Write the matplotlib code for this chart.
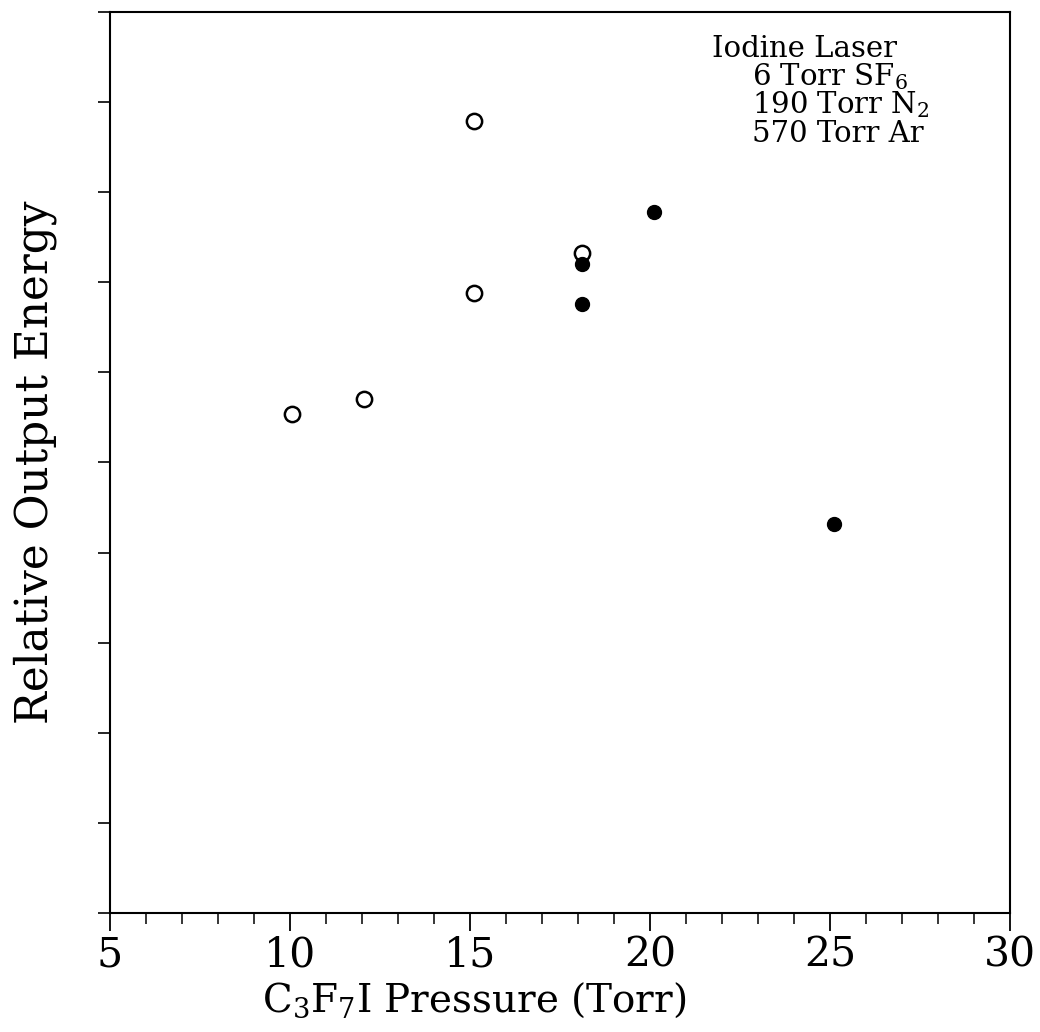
import matplotlib
matplotlib.use("Agg")
import matplotlib.pyplot as plt
from matplotlib.ticker import MultipleLocator, NullFormatter

plt.rcParams['font.family'] = ['DejaVu Serif']
plt.rcParams['mathtext.fontset'] = 'dejavuserif'

# open circles
open_x = [10.05, 12.05, 15.1, 15.1, 18.1]
open_y = [5.54, 5.71, 8.79, 6.88, 7.33]
# filled circles
fill_x = [18.1, 18.1, 20.1, 25.1]
fill_y = [7.20, 6.76, 7.78, 4.32]

legend_lines = ["Iodine Laser", "6 Torr SF$_6$", "190 Torr N$_2$", "570 Torr Ar"]

fig = plt.figure(figsize=(10.4, 10.32), dpi=100)
ax = fig.add_axes([0.1058, 0.1153, 0.8654, 0.8731])

ax.plot(open_x, open_y, "o", ms=11, mfc="white", mec="black", mew=1.8, ls="none")
ax.plot(fill_x, fill_y, "o", ms=10, mfc="black", mec="black", ls="none")

ax.set_xlim(5, 30)
ax.set_ylim(0, 10)
ax.xaxis.set_major_locator(MultipleLocator(5))
ax.xaxis.set_minor_locator(MultipleLocator(1))
ax.yaxis.set_major_locator(MultipleLocator(1))
ax.yaxis.set_major_formatter(NullFormatter())
ax.tick_params(axis="x", which="major", direction="out", length=13, width=1.3, labelsize=29.5, pad=3.5)
ax.tick_params(axis="x", which="minor", direction="out", length=8, width=1.1)
ax.tick_params(axis="y", which="major", direction="out", length=8.5, width=1.2)
for s in ax.spines.values():
    s.set_linewidth(1.5)

ax.set_xlabel(r"C$_3$F$_7$I Pressure (Torr)", fontsize=28, ha="center", va="baseline")
ax.xaxis.set_label_coords((474 - 110) / 900, (913 - 1012) / 901)
ax.set_ylabel("Relative Output Energy", fontsize=31.5, va="baseline")
ax.yaxis.set_label_coords((47 - 110) / 900, 0.5)

# annotation block, one line at a time
ax.text((712 - 110) / 900, (913 - 57) / 901, legend_lines[0], transform=ax.transAxes,
        fontsize=21, va="baseline", ha="left")
for i, line in enumerate(legend_lines[1:]):
    ax.text((752 - 110) / 900, (913 - 85 - 28.5 * i) / 901, line, transform=ax.transAxes,
            fontsize=21, va="baseline", ha="left")

fig.savefig("out.png", dpi=100)
